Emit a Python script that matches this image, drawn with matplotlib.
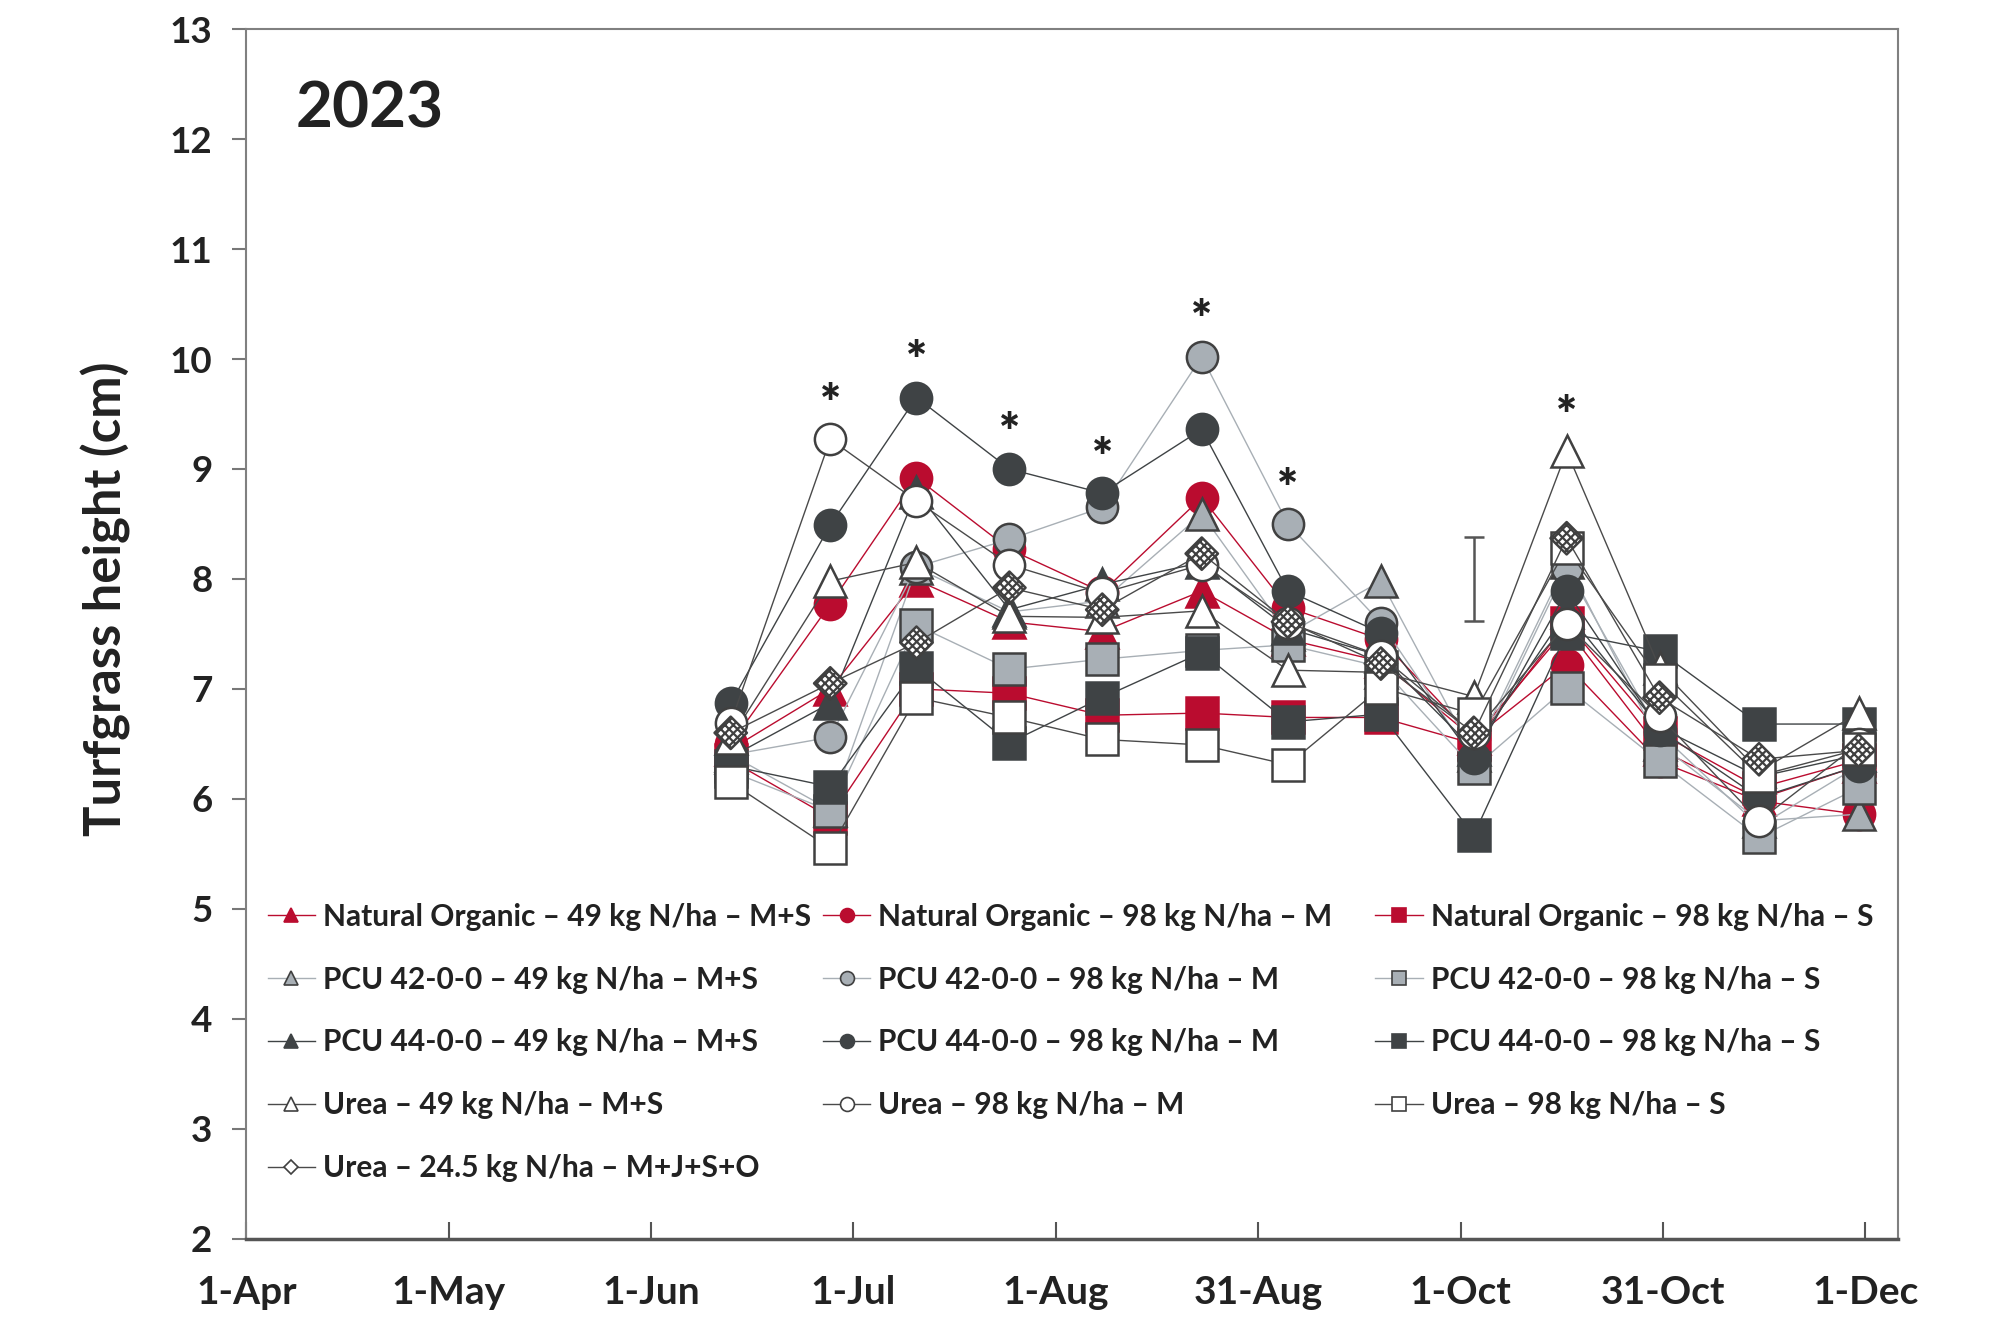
import matplotlib
matplotlib.use("Agg")
import matplotlib.pyplot as plt
from matplotlib.lines import Line2D
import pandas as pd

plt.rcParams['font.family'] = ['Lato', 'DejaVu Sans']
plt.rcParams['hatch.linewidth'] = 1.6

# sampling dates (2023)
dates = pd.to_datetime(['2023-06-13', '2023-06-28', '2023-07-11', '2023-07-25', '2023-08-08',
                        '2023-08-23', '2023-09-05', '2023-09-19', '2023-10-03', '2023-10-17',
                        '2023-10-31', '2023-11-15', '2023-11-30'])

# turfgrass height (cm) per treatment
no_49 = [6.45, 7.00, 7.99, 7.61, 7.52, 7.89, 7.45, 7.25, 6.55, 7.55, 6.45, 6.00, 6.30]
no_98m = [6.50, 7.77, 8.92, 8.27, 7.88, 8.74, 7.74, 7.45, 6.55, 7.22, 6.34, 5.98, 5.86]
no_98s = [6.35, 5.83, 7.00, 6.96, 6.76, 6.78, 6.74, 6.74, 6.50, 7.60, 6.60, 6.10, 6.35]
pcu42_49 = [6.40, 5.90, 8.10, 7.70, 7.80, 8.59, 7.50, 7.98, 6.40, 8.15, 6.50, 5.80, 5.86]
pcu42_98m = [6.40, 6.56, 8.11, 8.36, 8.65, 10.02, 8.50, 7.60, 6.35, 8.10, 6.60, 5.75, 6.30]
pcu42_98s = [6.25, 5.89, 7.58, 7.18, 7.27, 7.35, 7.40, 7.20, 6.28, 7.01, 6.34, 5.65, 6.10]
pcu44_49 = [6.38, 6.87, 8.79, 7.72, 7.95, 8.15, 7.55, 7.30, 6.45, 7.70, 6.65, 6.20, 6.40]
pcu44_98m = [6.87, 8.49, 9.65, 9.00, 8.78, 9.36, 7.89, 7.51, 6.37, 7.89, 6.63, 6.01, 6.30]
pcu44_98s = [6.30, 6.11, 7.19, 6.51, 6.92, 7.33, 6.70, 6.77, 5.67, 7.51, 7.34, 6.68, 6.68]
urea_49 = [6.55, 7.98, 8.15, 7.66, 7.65, 7.71, 7.17, 7.15, 6.93, 9.16, 7.19, 6.25, 6.78]
urea_98m = [6.69, 9.27, 8.71, 8.13, 7.87, 8.13, 7.60, 7.30, 6.60, 7.59, 6.75, 5.80, 6.50]
urea_98s = [6.15, 5.55, 6.92, 6.74, 6.54, 6.49, 6.31, 7.01, 6.77, 8.28, 7.08, 6.21, 6.45]
urea_245 = [6.60, 7.05, 7.42, 7.92, 7.72, 8.23, 7.61, 7.23, 6.60, 8.37, 6.92, 6.36, 6.44]

# significance marks and LSD bar
star_idx = [1, 2, 3, 4, 5, 6, 9]
star_y = [9.58, 9.97, 9.31, 9.09, 10.34, 8.80, 9.47]
lsd_date = pd.Timestamp('2023-10-03')
lsd_lo, lsd_hi = 7.62, 8.38

# x axis: excel date axis, major unit 30.5 days from 1-Apr
x_start = pd.Timestamp('2023-04-01')
x_labels = ['1-Apr', '1-May', '1-Jun', '1-Jul', '1-Aug', '31-Aug', '1-Oct', '31-Oct', '1-Dec']

red = '#BA0C2F'
dark = '#3F4345'
gray = '#A8AFB5'
edge = '#404040'

series = [
    ('Natural Organic – 49 kg N/ha – M+S', no_49, red, '^', red, red),
    ('Natural Organic – 98 kg N/ha – M', no_98m, red, 'o', red, red),
    ('Natural Organic – 98 kg N/ha – S', no_98s, red, 's', red, red),
    ('PCU 42-0-0 – 49 kg N/ha – M+S', pcu42_49, gray, '^', gray, edge),
    ('PCU 42-0-0 – 98 kg N/ha – M', pcu42_98m, gray, 'o', gray, edge),
    ('PCU 42-0-0 – 98 kg N/ha – S', pcu42_98s, gray, 's', gray, edge),
    ('PCU 44-0-0 – 49 kg N/ha – M+S', pcu44_49, dark, '^', dark, dark),
    ('PCU 44-0-0 – 98 kg N/ha – M', pcu44_98m, dark, 'o', dark, dark),
    ('PCU 44-0-0 – 98 kg N/ha – S', pcu44_98s, dark, 's', dark, dark),
    ('Urea – 49 kg N/ha – M+S', urea_49, '#4a4a4a', '^', 'white', edge),
    ('Urea – 98 kg N/ha – M', urea_98m, '#4a4a4a', 'o', 'white', edge),
    ('Urea – 98 kg N/ha – S', urea_98s, '#4a4a4a', 's', 'white', edge),
]

fig = plt.figure(figsize=(19.92, 13.26), dpi=100)
ax = fig.add_axes([0.1237, 0.0659, 0.8293, 0.9121])

z = 3
handles = []
for label, vals, lc, mk, fc, ec in series:
    ax.plot(dates, vals, color=lc, lw=1.0, marker=mk, markersize=22.5,
            markerfacecolor=fc, markeredgecolor=ec, markeredgewidth=1.8, zorder=z)
    handles.append(Line2D([], [], color=lc, lw=1.0, marker=mk, markersize=10,
                          markerfacecolor=fc, markeredgecolor=ec, markeredgewidth=1.2))
    z += 1

# urea 24.5 with checkered diamonds
ax.plot(dates, urea_245, color='#4a4a4a', lw=1.0, zorder=z)
ax.scatter(dates, urea_245, marker='D', s=16.5 ** 2, facecolor='white', edgecolor=edge,
           linewidths=1.8, hatch='xxxx', zorder=z + 1)
handles.append(Line2D([], [], color='#4a4a4a', lw=1.0, marker='D', markersize=7.5,
                      markerfacecolor='white', markeredgecolor=edge, markeredgewidth=1.2))
labels = [s[0] for s in series] + ['Urea – 24.5 kg N/ha – M+J+S+O']

# LSD bar
ax.errorbar([lsd_date], [(lsd_lo + lsd_hi) / 2], yerr=[[(lsd_hi - lsd_lo) / 2]],
            fmt='none', ecolor='#555555', elinewidth=1.8, capsize=7, capthick=1.8, zorder=2)

for i, y in zip(star_idx, star_y):
    ax.text(dates[i], y, '*', ha='center', va='center', fontsize=36, fontweight='heavy',
            color='#222222')

ax.text(0.03, 0.934, '2023', transform=ax.transAxes, fontsize=46, fontweight='bold',
        color='#222222', va='center', ha='left')

# legend in three fixed columns
cols = [[0, 3, 6, 9, 12], [1, 4, 7, 10], [2, 5, 8, 11]]
xs = [0.1343, 0.4130, 0.6905]
for k, idx in enumerate(cols):
    leg = fig.legend([handles[i] for i in idx], [labels[i] for i in idx],
                     loc='upper left', bbox_to_anchor=(xs[k], 0.3193), frameon=False,
                     fontsize=21.5, handlelength=1.6, handletextpad=0.25, labelspacing=1.17,
                     borderpad=0, borderaxespad=0)
    for t in leg.get_texts():
        t.set_color('#222222')
        t.set_fontweight('bold')

ax.set_ylim(2, 13)
ax.set_yticks(range(2, 14))
ax.set_xlim(x_start, pd.Timestamp('2023-12-06'))
xt = [x_start + pd.Timedelta(hours=732 * k) for k in range(len(x_labels))]
ax.set_xticks(xt)
ax.set_xticklabels(x_labels)

ax.tick_params(axis='y', direction='out', length=10, width=1.5, color='#777777',
               labelsize=26.5, pad=14.5, labelcolor='#222222')
ax.tick_params(axis='x', direction='in', length=12, width=1.5, color='#555555',
               labelsize=28, pad=26, labelcolor='#222222')
for t in ax.get_xticklabels() + ax.get_yticklabels():
    t.set_fontweight('bold')

for s in ['left', 'top', 'right']:
    ax.spines[s].set_color('#808080')
    ax.spines[s].set_linewidth(1.5)
ax.spines['bottom'].set_color('#555555')
ax.spines['bottom'].set_linewidth(2.5)

ax.set_ylabel('Turfgrass height (cm)', fontsize=36.5, fontweight='bold', color='#222222')
ax.yaxis.set_label_coords(-0.070, 0.529)

fig.savefig('out.png', dpi=100)
